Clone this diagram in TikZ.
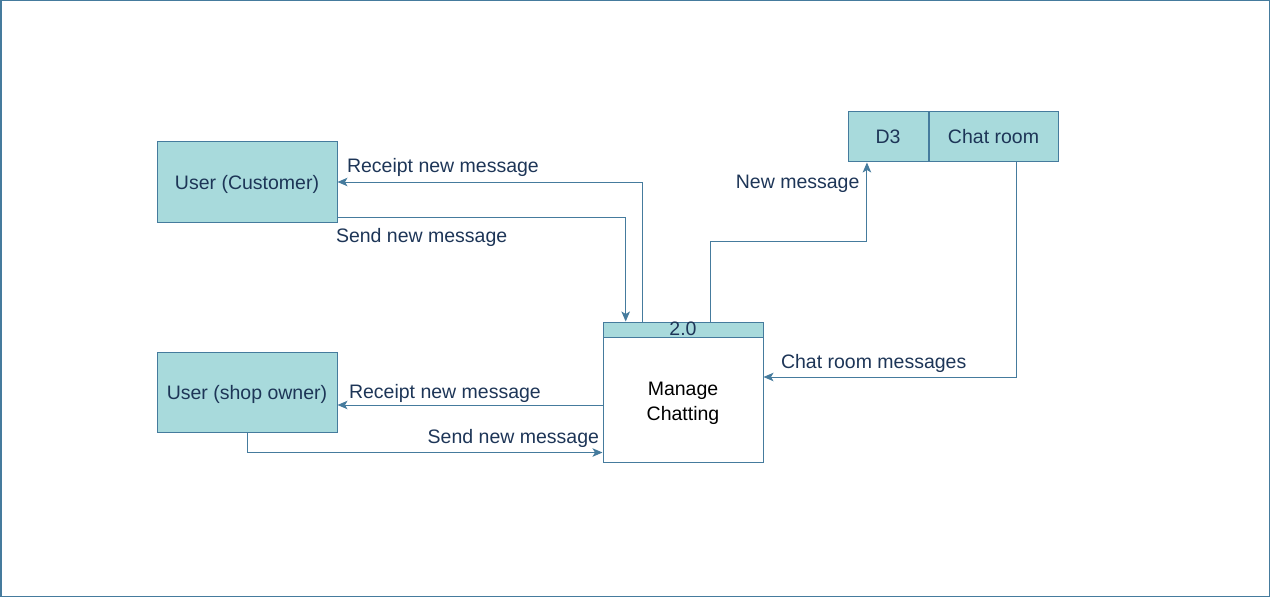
\documentclass[tikz,border=0pt]{standalone}
\usepackage{fontspec}
\setmainfont{Liberation Sans}
\usetikzlibrary{arrows.meta,calc,positioning}
\definecolor{dfdline}{HTML}{457B9D}
\definecolor{dfdfill}{HTML}{A8DADC}
\definecolor{dfdtext}{HTML}{1D3557}
\tikzstyle{ent}=[rectangle,draw=dfdline,fill=dfdfill,text=dfdtext,line width=1pt,minimum width=180pt,minimum height=80pt,inner sep=1pt,text height=15pt,text depth=0pt]
\tikzstyle{proc}=[rectangle,draw=dfdline,fill=white,line width=1pt,minimum width=160pt,minimum height=140pt]
\tikzstyle{procnum}=[rectangle,draw=dfdline,fill=dfdfill,text=dfdtext,line width=1pt,minimum width=160pt,minimum height=15pt,inner sep=0pt,text height=11pt,text depth=0pt]
\tikzstyle{store}=[rectangle,draw=dfdline,fill=dfdfill,text=dfdtext,line width=1pt,minimum height=50pt,inner sep=0pt,text height=14pt,text depth=0pt]
\tikzstyle{flow}=[draw=dfdline,line width=1pt,-{Stealth[length=10pt,width=8.5pt,inset=2.5pt]}]
\tikzstyle{lbl}=[text=dfdtext,inner sep=0pt]

\begin{document}
\begin{tikzpicture}[x=1pt,y=-1pt,font=\fontsize{19.5}{25}\selectfont]
\useasboundingbox (0,0) rectangle (1272,599);
\draw[dfdline,line width=1.2pt] (1,0.6) rectangle (1269.5,596.4);
\node[ent] (cust) at (247,182) {User (Customer)};
\node[ent] (shop) at (247,392) {User (shop owner)};
\node[proc] (mc) at (683,392) {};
\node[procnum,anchor=north] (mcnum) at (mc.north) {2.0};
\node[align=center,text=black] (mctxt) at (683,403) {Manage\\Chatting};
\node[store,minimum width=80pt] (dst) at (888,137) {D3};
\node[store,minimum width=129pt,right=0pt of dst] (dsname) {Chat room};
\draw[flow] ($(mc.north west)!.25!(mc.north east)$) |- (cust.east) node[lbl,anchor=west,xshift=9pt,yshift=15pt] {Receipt new message};
\draw[flow] ($(cust.south east)+(0,-5)$) node[lbl,anchor=west,xshift=-2pt,yshift=-20pt] {Send new message} -| ($(mc.north west)!.144!(mc.north east)$);
\draw[flow] ($(mc.north west)!.669!(mc.north east)$) -- ++(0,-80) -| ($(dst.south west)!.24!(dst.south east)$) node[lbl,anchor=east,xshift=-7pt,yshift=-21pt] {New message};
\draw[flow] ($(dsname.south west)!.68!(dsname.south east)$) |- ($(mc.east)+(0,-15)$) node[lbl,anchor=west,xshift=17pt,yshift=14pt] {Chat room messages};
\draw[flow] ($(mc.west)+(0,13)$) -- ($(shop.east)+(0,13)$) node[lbl,anchor=west,xshift=11pt,yshift=12pt] {Receipt new message};
\draw[flow] (shop.south) |- ($(mc.south west)+(0,-10)$) node[lbl,anchor=east,xshift=-3pt,yshift=14pt] {Send new message};
\end{tikzpicture}
\end{document}
